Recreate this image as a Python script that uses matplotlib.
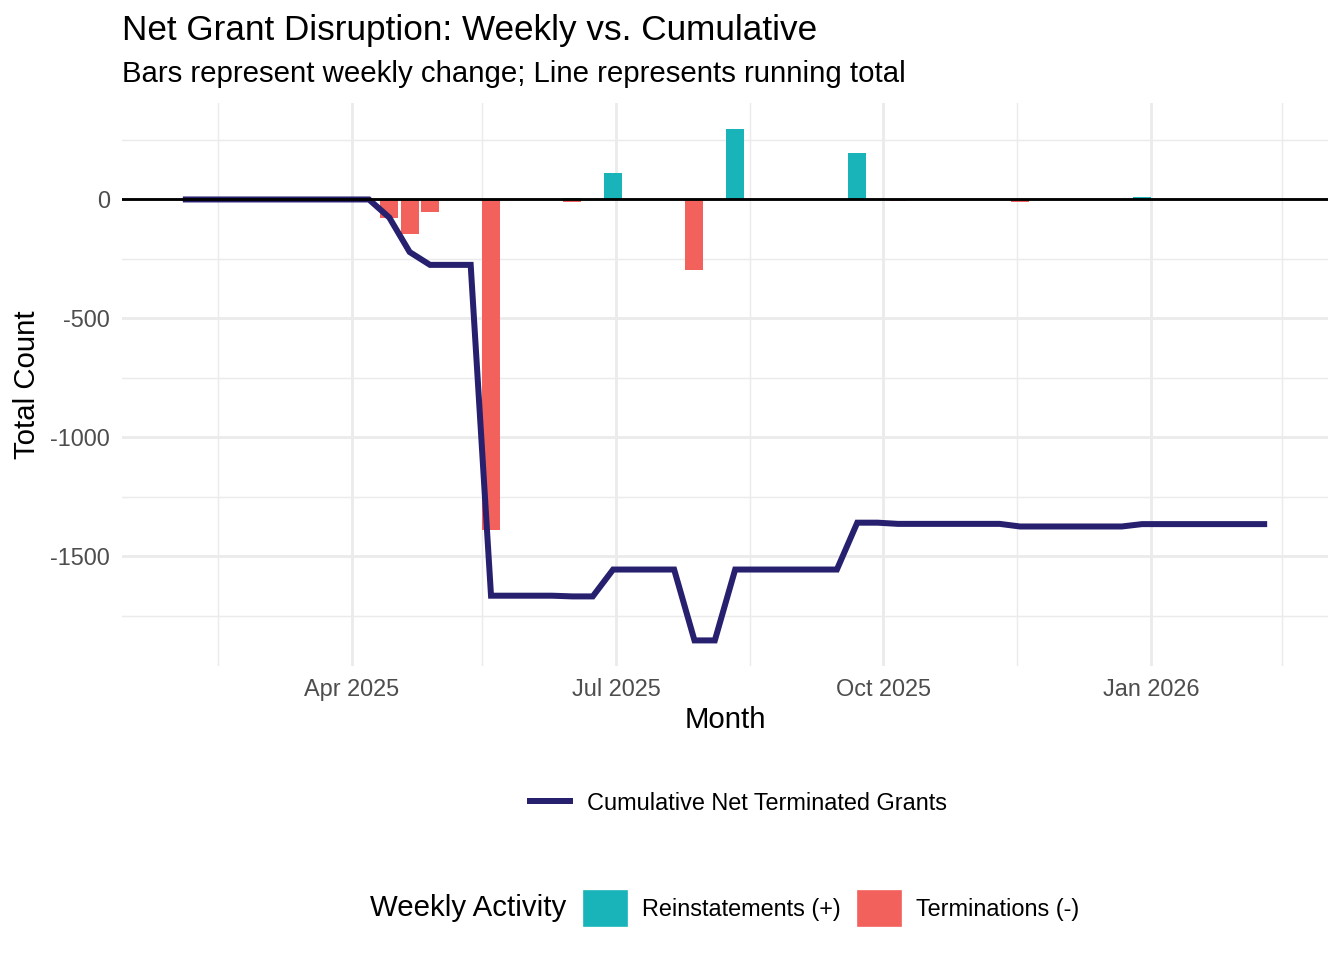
import matplotlib.pyplot as plt
import matplotlib.dates as mdates
from matplotlib.lines import Line2D
from matplotlib.patches import Patch
import numpy as np
import pandas as pd

plt.rcParams['font.family'] = ['Liberation Sans', 'DejaVu Sans']
plt.rcParams['axes.unicode_minus'] = False

# weekly data, Mondays from 3 Feb 2025
weeks = pd.date_range('2025-02-03', periods=54, freq='7D')
reinstated = [0] * 54
terminated = [0] * 54
for i, v in {19: 8, 21: 113, 27: 298, 33: 197, 47: 10}.items():
    reinstated[i] = v
for i, v in {10: 76, 11: 145, 12: 54, 15: 1391, 19: 11, 25: 298, 35: 5, 41: 11}.items():
    terminated[i] = v

reinstated = np.array(reinstated)
terminated = np.array(terminated)
cumulative = np.cumsum(reinstated - terminated)

teal = '#19b4b9'
red = '#f2615c'
navy = '#26206e'
grid_c = '#ebebeb'

fig = plt.figure(figsize=(7, 5), dpi=192)
ax = fig.add_axes([122 / 1344, 1 - 666 / 960, (1328 - 122) / 1344, (666 - 103) / 960])

bw = pd.Timedelta(days=6.2)
ax.bar(weeks, reinstated, width=bw, color=teal, zorder=2)
ax.bar(weeks, -terminated, width=bw, color=red, zorder=2)
ax.plot(weeks, cumulative, color=navy, lw=2.25, zorder=3, solid_joinstyle='miter')
ax.axhline(0, color='black', lw=1.07, zorder=4)

# limits with 5% expansion like ggplot
x0 = weeks[0] - bw / 2
x1 = weeks[-1] + bw / 2
pad = (x1 - x0) * 0.05
ax.set_xlim(x0 - pad, x1 + pad)
lo = min(cumulative.min(), -terminated.max())
hi = reinstated.max()
ypad = (hi - lo) * 0.05
ax.set_ylim(lo - ypad, hi + ypad)

major_x = pd.to_datetime(['2025-04-01', '2025-07-01', '2025-10-01', '2026-01-01'])
minor_x = pd.to_datetime(['2025-02-14', '2025-05-16', '2025-08-16', '2025-11-16', '2026-02-15'])
ax.set_xticks(major_x)
ax.set_xticks(minor_x, minor=True)
ax.xaxis.set_major_formatter(mdates.DateFormatter('%b %Y'))
ax.set_yticks([0, -500, -1000, -1500])
ax.set_yticks([250, -250, -750, -1250, -1750], minor=True)

ax.grid(which='major', color=grid_c, lw=1.07, zorder=0)
ax.grid(which='minor', color=grid_c, lw=0.53, zorder=0)
ax.set_axisbelow(True)
for s in ax.spines.values():
    s.set_visible(False)
ax.tick_params(which='both', length=0, labelsize=8.8, labelcolor='#4d4d4d', pad=4.5)

ax.set_xlabel('Month', fontsize=11)
ax.set_ylabel('Total Count', fontsize=11)
ax.xaxis.set_label_coords(0.5, -(720 - 666) / 563, transform=ax.transAxes)
ax.yaxis.set_label_coords(-(122 - 27) / 1206, 0.5, transform=ax.transAxes)
ax.xaxis.label.set_va('center')
ax.yaxis.label.set_va('center')

fig.text(122 / 1344, 1 - 40 / 960, 'Net Grant Disruption: Weekly vs. Cumulative',
         fontsize=13.2, ha='left', va='baseline')
fig.text(122 / 1344, 1 - 82 / 960, 'Bars represent weekly change; Line represents running total',
         fontsize=11, ha='left', va='baseline')

# line legend
h1 = [Line2D([0], [0], color=navy, lw=2.25)]
fig.legend(h1, ['Cumulative Net Terminated Grants'], loc='center left',
           bbox_to_anchor=(530 / 1344, 1 - 803 / 960), frameon=False, fontsize=8.8,
           handlelength=1.7, handletextpad=0.72, borderpad=0, borderaxespad=0)

# fill legend
h2 = [Patch(color=teal), Patch(color=red)]
fig.legend(h2, ['Reinstatements (+)', 'Terminations (-)'], loc='center left',
           bbox_to_anchor=(584 / 1344, 1 - 908 / 960), frameon=False, fontsize=8.8, ncol=2,
           handlelength=1.79, handleheight=1.79, handletextpad=0.68, columnspacing=0.72,
           borderpad=0, borderaxespad=0)
fig.text(566 / 1344, 1 - 908 / 960, 'Weekly Activity', fontsize=11, ha='right', va='center')

fig.savefig('out.png', dpi=192)
